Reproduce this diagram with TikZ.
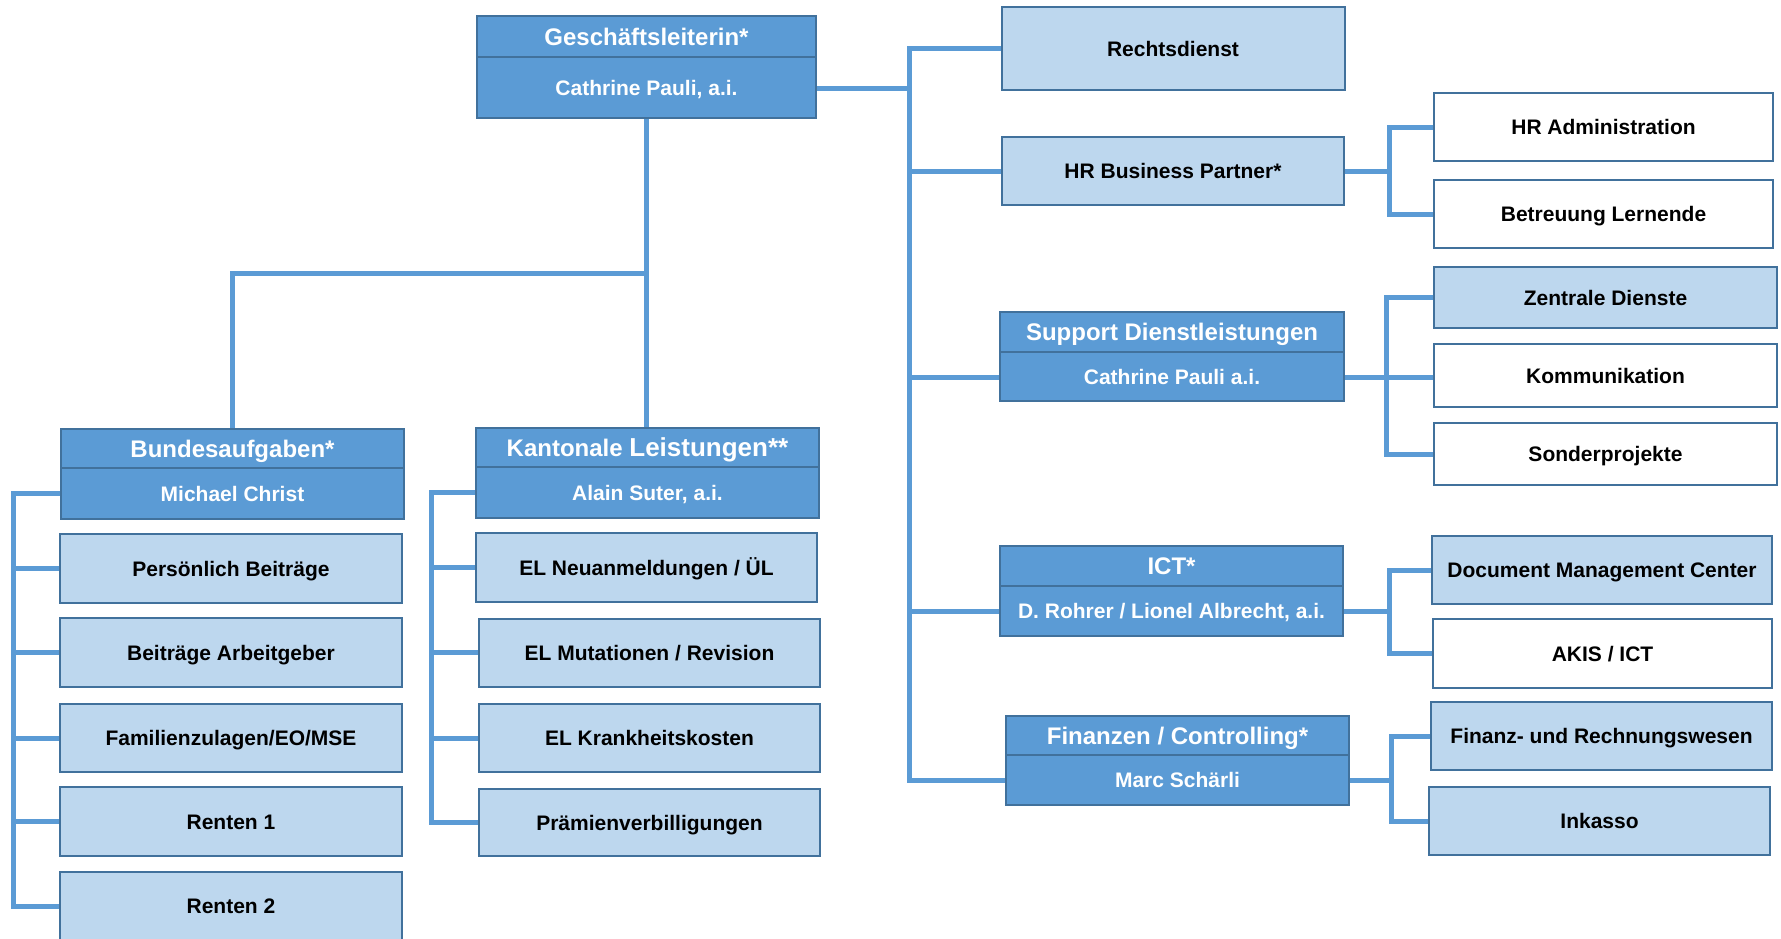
\documentclass[tikz,border=0pt]{standalone}
\usepackage{fontspec}
\setmainfont{Liberation Sans}
\usetikzlibrary{backgrounds}
\definecolor{dk}{RGB}{91,155,213}
\definecolor{bd}{RGB}{65,113,156}
\definecolor{lt}{RGB}{189,215,238}
\definecolor{cn}{RGB}{91,155,213}
\begin{document}
\begin{tikzpicture}[x=1pt,y=-1pt,
  conn/.style={draw=cn, line width=5pt},
  box/.style={draw=bd, line width=2pt, rectangle, inner sep=0pt, text height=15pt, text depth=0pt, font=\bfseries\fontsize{21}{25}\selectfont, align=center},
  lbox/.style={box, fill=lt},
  wbox/.style={box, fill=white},
  hbox/.style={box, fill=dk},
  htxt/.style={inner sep=0pt, text=white, font=\bfseries\fontsize{24}{28}\selectfont, text height=17pt, text depth=0pt},
  ntxt/.style={inner sep=0pt, text=white, font=\bfseries\fontsize{21}{25}\selectfont, text height=15pt, text depth=0pt},
  divl/.style={draw=bd, line width=2pt}]
\useasboundingbox (0,0) rectangle (1781,938);
\clip (0,0) rectangle (1781,938);

% ---- top
\node[hbox, minimum width=339pt, minimum height=102pt] (gl) at (646.5,67) {};
\draw[divl] (477,57) -- (816,57);
\node[htxt] (gl-t) at (646.5,37) {Geschäftsleiterin*};
\node[ntxt] (gl-n) at (646.5,88) {Cathrine Pauli, a.i.};

% ---- right column
\node[lbox, minimum width=343pt, minimum height=83pt] (rd) at (1173,48.5) {Rechtsdienst};
\node[lbox, minimum width=342pt, minimum height=68pt] (hrbp) at (1173,171) {HR Business Partner*};
\node[wbox, minimum width=339pt, minimum height=68pt] (hra) at (1603.5,127) {HR Administration};
\node[wbox, minimum width=339pt, minimum height=68pt] (bl) at (1603.5,214) {Betreuung Lernende};

\node[hbox, minimum width=344pt, minimum height=89pt] (sup) at (1172,356.5) {};
\draw[divl] (1000,352) -- (1344,352);
\node[htxt] (sup-t) at (1172,332) {Support Dienstleistungen};
\node[ntxt] (sup-n) at (1172,377) {Cathrine Pauli a.i.};
\node[lbox, minimum width=343pt, minimum height=61pt] (zd) at (1605.5,297.5) {Zentrale Dienste};
\node[wbox, minimum width=343pt, minimum height=63pt] (kom) at (1605.5,375.5) {Kommunikation};
\node[wbox, minimum width=343pt, minimum height=62pt] (son) at (1605.5,454) {Sonderprojekte};

\node[hbox, minimum width=343pt, minimum height=90pt] (ict) at (1171.5,591) {};
\draw[divl] (1000,586) -- (1343,586);
\node[htxt] (ict-t) at (1171.5,566) {ICT*};
\node[ntxt] (ict-n) at (1171.5,611) {D. Rohrer / Lionel Albrecht, a.i.};
\node[lbox, minimum width=340pt, minimum height=68pt] (dmc) at (1602,570) {Document Management Center};
\node[wbox, minimum width=339pt, minimum height=69pt] (akis) at (1602.5,653.5) {AKIS / ICT};

\node[hbox, minimum width=343pt, minimum height=89pt] (fin) at (1177.5,760.5) {};
\draw[divl] (1006,755) -- (1349,755);
\node[htxt] (fin-t) at (1177.5,735.5) {Finanzen / Controlling*};
\node[ntxt] (fin-n) at (1177.5,780) {Marc Schärli};
\node[lbox, minimum width=341pt, minimum height=68pt] (frw) at (1601.5,736) {Finanz- und Rechnungswesen};
\node[lbox, minimum width=341pt, minimum height=68pt] (ink) at (1599.5,821) {Inkasso};

% ---- left column
\node[hbox, minimum width=343pt, minimum height=90pt] (ba) at (232.5,474) {};
\draw[divl] (61,468) -- (404,468);
\node[htxt] (ba-t) at (232.5,448.5) {Bundesaufgaben*};
\node[ntxt] (ba-n) at (232.5,493.5) {Michael Christ};
\node[lbox, minimum width=342pt, minimum height=69pt] (pb) at (231,568.5) {Persönlich Beiträge};
\node[lbox, minimum width=342pt, minimum height=69pt] (bag) at (231,652.5) {Beiträge Arbeitgeber};
\node[lbox, minimum width=342pt, minimum height=68pt] (fz) at (231,738) {Familienzulagen/EO/MSE};
\node[lbox, minimum width=342pt, minimum height=69pt] (r1) at (231,821.5) {Renten 1};
\node[lbox, minimum width=342pt, minimum height=68pt] (r2) at (231,906) {Renten 2};

% ---- middle column
\node[hbox, minimum width=343pt, minimum height=90pt] (kl) at (647.5,473) {};
\draw[divl] (476,467) -- (819,467);
\node[htxt] (kl-t) at (647.5,447.5) {Kantonale {\fontsize{26}{30}\selectfont Leistungen**}};
\node[ntxt] (kl-n) at (647.5,492.5) {Alain Suter, a.i.};
\node[lbox, minimum width=341pt, minimum height=69pt] (eln) at (646.5,567.5) {EL Neuanmeldungen / ÜL};
\node[lbox, minimum width=341pt, minimum height=68pt] (elm) at (649.5,652.5) {EL Mutationen / Revision};
\node[lbox, minimum width=341pt, minimum height=68pt] (elk) at (649.5,738) {EL Krankheitskosten};
\node[lbox, minimum width=341pt, minimum height=67pt] (pv) at (649.5,822.5) {Prämienverbilligungen};

% ---- connectors
\coordinate (T) at (909,0);
\coordinate (H1) at (1389,0);
\coordinate (H2) at (1386,0);
\coordinate (H3) at (1389,0);
\coordinate (H4) at (1391,0);
\coordinate (L) at (13,0);
\coordinate (M) at (431,0);
\coordinate (J) at (647,273);
\begin{scope}[on background layer]
\draw[conn] (rd.west) -| (T |- fin-n) -- (fin.west |- fin-n);
\draw[conn] (gl.east |- gl-n) -- (T |- gl-n);
\draw[conn] (hrbp.west) -- (T |- hrbp.west);
\draw[conn] (sup.west |- sup-n) -- (T |- sup-n);
\draw[conn] (ict.west |- ict-n) -- (T |- ict-n);

\draw[conn] (hra.west) -| (H1 |- bl.west) -- (bl.west);
\draw[conn] (hrbp.east) -- (H1 |- hrbp.east);

\draw[conn] (zd.west) -| (H2 |- son.west) -- (son.west);
\draw[conn] (sup.east |- sup-n) -- (kom.west |- sup-n);

\draw[conn] (dmc.west) -| (H3 |- akis.west) -- (akis.west);
\draw[conn] (ict.east |- ict-n) -- (H3 |- ict-n);

\draw[conn] (frw.west) -| (H4 |- ink.west) -- (ink.west);
\draw[conn] (fin.east |- fin-n) -- (H4 |- fin-n);

\draw[conn] (gl.south) -- (gl.south |- kl.north);
\draw[conn] (J) -| (ba.north);

\draw[conn] (ba.west |- ba-n) -| (L |- r2.west) -- (r2.west);
\draw[conn] (pb.west) -- (L |- pb.west);
\draw[conn] (bag.west) -- (L |- bag.west);
\draw[conn] (fz.west) -- (L |- fz.west);
\draw[conn] (r1.west) -- (L |- r1.west);

\draw[conn] (kl.west |- kl-n) -| (M |- pv.west) -- (pv.west);
\draw[conn] (eln.west) -- (M |- eln.west);
\draw[conn] (elm.west) -- (M |- elm.west);
\draw[conn] (elk.west) -- (M |- elk.west);
\end{scope}
\end{tikzpicture}
\end{document}
